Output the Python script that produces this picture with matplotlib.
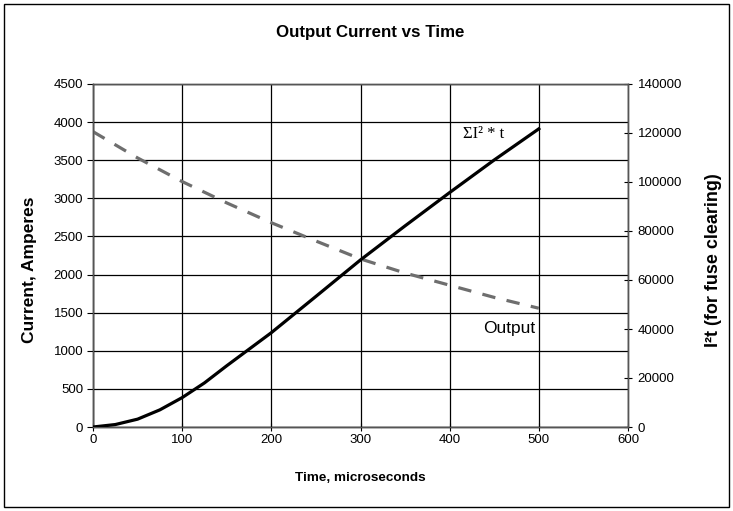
import matplotlib
matplotlib.use("Agg")
import matplotlib.pyplot as plt
from matplotlib.patches import Rectangle

plt.rcParams['font.family'] = ['Liberation Sans', 'DejaVu Sans']

# Data
time_output = [0, 50, 100, 150, 200, 250, 300, 350, 400, 450, 500]
current_output = [3875, 3530, 3220, 2940, 2680, 2440, 2205, 2020, 1860, 1700, 1558]

time_i2t = [0, 25, 50, 75, 100, 125, 150, 200, 250, 300, 350, 400, 450, 500]
i2t_values = [0, 1000, 3200, 7000, 12000, 18000, 25000, 38500, 53300, 68200, 82100, 95700, 109000, 121700]

x_ticks = [0, 100, 200, 300, 400, 500, 600]
left_ticks = [0, 500, 1000, 1500, 2000, 2500, 3000, 3500, 4000, 4500]
right_ticks = [0, 20000, 40000, 60000, 80000, 100000, 120000, 140000]

fig = plt.figure(figsize=(7.33, 5.11), dpi=100)
ax = fig.add_axes([93/733, 1-427/511, (628-93)/733, (427-84)/511])
ax2 = ax.twinx()

ax.plot(time_output, current_output, color='#6e6e6e', lw=2.3,
        linestyle=(0, (4.2, 3.6)), zorder=3)
ax2.plot(time_i2t, i2t_values, color='black', lw=2.3, zorder=3)

ax.set_xlim(0, 600)
ax.set_ylim(0, 4500)
ax2.set_ylim(0, 140000)
ax.set_xticks(x_ticks)
ax.set_yticks(left_ticks)
ax2.set_yticks(right_ticks)

ax.grid(True, color='black', lw=0.9)
ax.set_axisbelow(True)

for a in (ax, ax2):
    for s in a.spines.values():
        s.set_color('#555555')
        s.set_linewidth(1.0)
ax.spines['left'].set_color('black')
ax.spines['bottom'].set_color('black')

ax.tick_params(axis='both', labelsize=9.5, length=4, width=0.8, direction='out', pad=3)
ax.tick_params(axis='x', direction='inout', length=6, pad=2)
ax2.tick_params(axis='y', labelsize=9.5, length=6, width=0.8, direction='inout', pad=4)

ax.set_xlabel('Time, microseconds', fontsize=9.7, fontweight='bold')
ax.set_ylabel('Current, Amperes', fontsize=12.5, fontweight='bold')
ax2.set_ylabel('I²t (for fuse clearing)', fontsize=13, fontweight='bold')
ax.xaxis.set_label_coords(0.5, -(472-427)/343)
ax.yaxis.set_label_coords((37-93)/535, (427-270)/343)
ax2.yaxis.set_label_coords((705-93)/535, (427-260)/343)

fig.text(0.505, 1-32/511, 'Output Current vs Time', ha='center', va='center',
         fontsize=12.2, fontweight='bold')

ax2.text(463/733, 1-134/511, 'ΣI² * t', transform=fig.transFigure,
         fontsize=12, family=['Liberation Serif', 'DejaVu Serif'], ha='left', va='center')
ax2.text(483/733, 1-328/511, 'Output', transform=fig.transFigure,
         fontsize=12.5, ha='left', va='center')

fig.patches.append(Rectangle((4/733, 4/511), 725/733, 503/511, transform=fig.transFigure,
                             fill=False, edgecolor='black', lw=1.0))

fig.savefig('out.png', dpi=100, facecolor='white')
